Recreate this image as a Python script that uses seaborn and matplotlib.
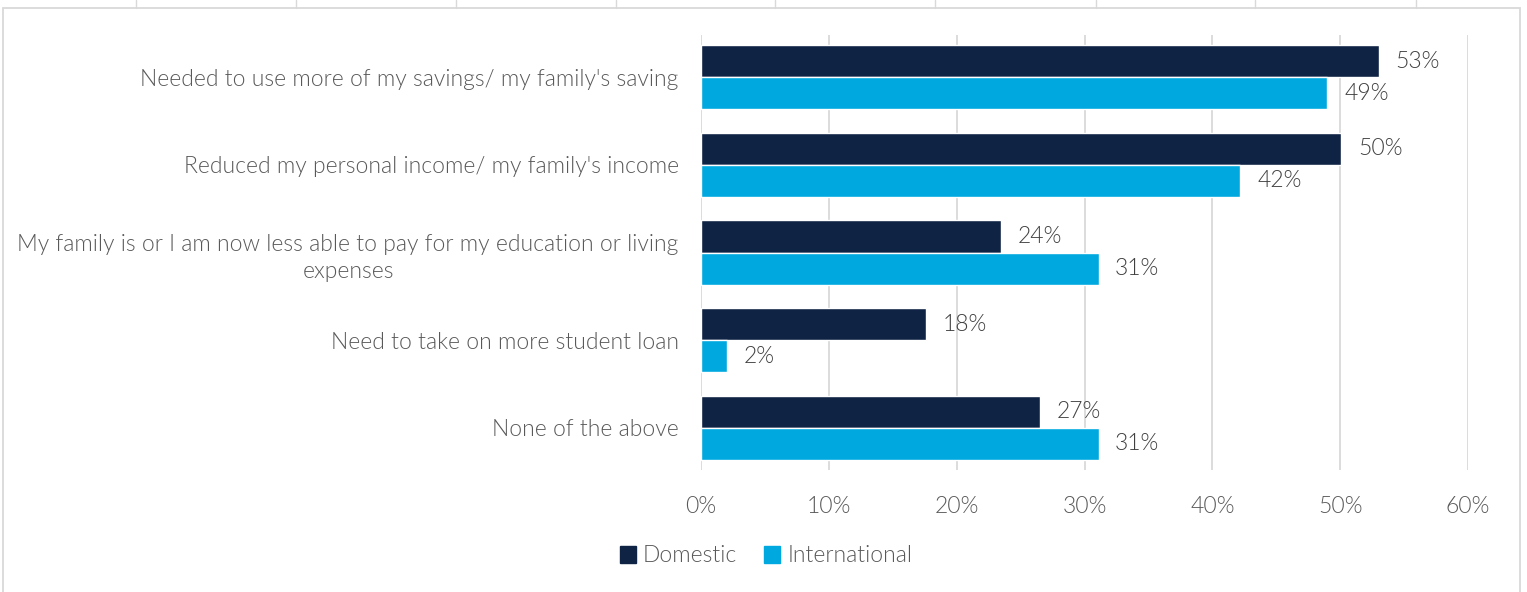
import matplotlib
matplotlib.use("Agg")
import matplotlib.pyplot as plt
import matplotlib.patches as mpatches
from matplotlib.lines import Line2D
import seaborn as sns
import pandas as pd

categories = [
    "Needed to use more of my savings/ my family's saving",
    "Reduced my personal income/ my family's income",
    "My family is or I am now less able to pay for my education or living\nexpenses",
    "Need to take on more student loan",
    "None of the above",
]
domestic = [53.0, 50.1, 23.5, 17.6, 26.5]
international = [49.0, 42.2, 31.1, 2.0, 31.1]
domestic_labels = ["53%", "50%", "24%", "18%", "27%"]
international_labels = ["49%", "42%", "31%", "2%", "31%"]
series = ["Domestic", "International"]
xticks = [0, 10, 20, 30, 40, 50, 60]
xtick_labels = ["0%", "10%", "20%", "30%", "40%", "50%", "60%"]

colors = {"Domestic": "#0F2344", "International": "#00A8E0"}
text_color = "#595959"
FS = 16.5
FW = 300

df = pd.DataFrame({
    "category": categories * 2,
    "value": domestic + international,
    "series": [series[0]] * len(categories) + [series[1]] * len(categories),
})

sns.set_theme(style="white")
plt.rcParams["font.family"] = ["Lato", "DejaVu Sans"]

fig = plt.figure(figsize=(15.27, 5.92), dpi=100)
ax = fig.add_axes([701 / 1527, 122 / 592, 767 / 1527, 435 / 592])

sns.barplot(data=df, y="category", x="value", hue="series", order=categories,
            hue_order=series, palette=colors, orient="h", width=0.73,
            saturation=1, ax=ax, legend=False)

ax.set_xlim(0, 60)
ax.set_ylim(4.48, -0.48)
ax.set_xticks(xticks)
ax.set_xticklabels(xtick_labels, fontsize=FS, color=text_color, fontweight=FW)
ax.tick_params(axis="x", length=0, pad=19)
ax.tick_params(axis="y", length=0, pad=16)
for lbl in ax.get_yticklabels():
    lbl.set_fontsize(FS)
    lbl.set_fontweight(FW)
    lbl.set_color(text_color)
    lbl.set_multialignment("center")
    lbl.set_linespacing(1.4)
ax.set_xlabel("")
ax.set_ylabel("")
ax.grid(axis="x", color="#D9D9D9", linewidth=1.3)
ax.set_axisbelow(True)
for s in ax.spines.values():
    s.set_visible(False)

labels_by_series = [domestic_labels, international_labels]
for container, labs in zip(ax.containers, labels_by_series):
    ax.bar_label(container, labels=labs, padding=12, fontsize=FS, color="#404040",
                 fontweight=FW)

handles = [mpatches.Patch(color=colors[s], label=s) for s in series]
leg = fig.legend(handles=handles, loc="center", bbox_to_anchor=(766 / 1527, 1 - 556 / 592),
                 ncol=2, frameon=False, prop={"size": FS, "weight": FW},
                 handlelength=0.7, handleheight=0.7,
                 handletextpad=0.3, columnspacing=1.2)
for t in leg.get_texts():
    t.set_color(text_color)

# outer chart frame
fig.add_artist(mpatches.Rectangle((3 / 1527, -0.01), 1517 / 1527, 1 - 8 / 592 + 0.01,
                                  transform=fig.transFigure, fill=False,
                                  edgecolor="#D9D9D9", linewidth=1.3))
for xp in [136, 296, 456, 616, 775, 935, 1096, 1255, 1416]:
    fig.add_artist(Line2D([xp / 1527, xp / 1527], [1 - 8 / 592, 1.0],
                          transform=fig.transFigure, color="#D9D9D9", linewidth=1.0))

fig.savefig("out.png", dpi=100, facecolor="white")
